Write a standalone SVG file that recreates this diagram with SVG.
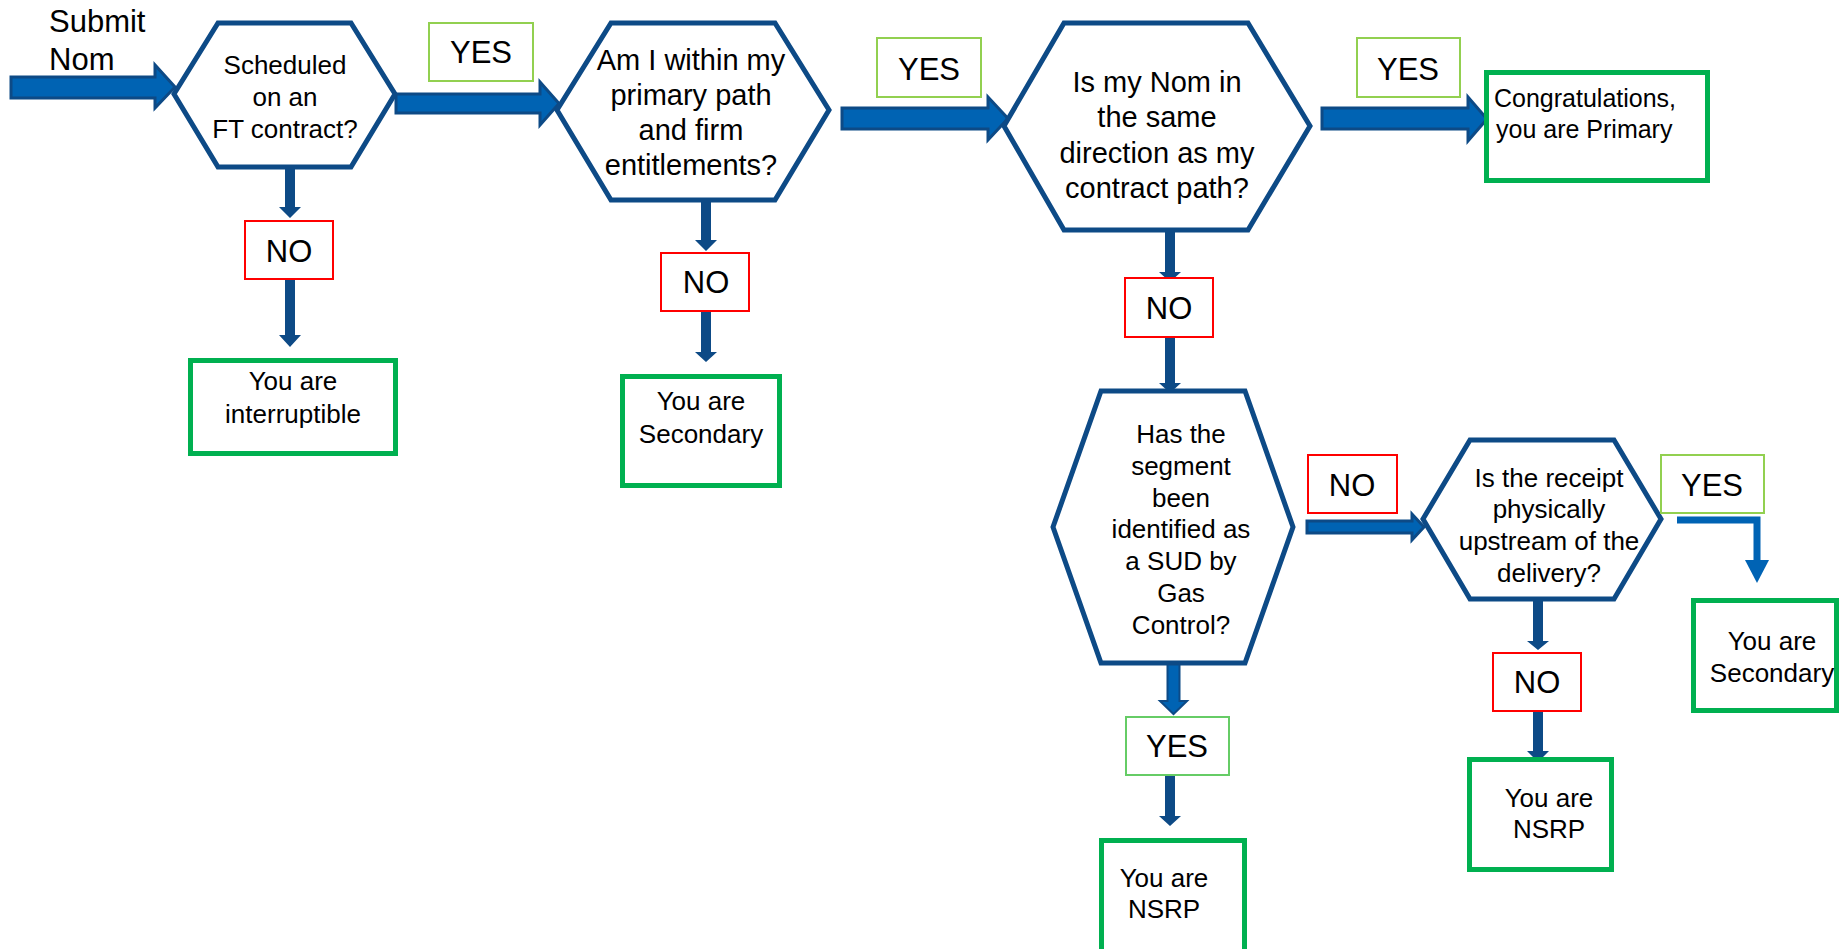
<svg xmlns="http://www.w3.org/2000/svg" width="1839" height="949" viewBox="0 0 1839 949">
<style>
text{font-family:"Liberation Sans",Arial,sans-serif;fill:#000}
.hex{fill:#fff;stroke:#0d4a86;stroke-width:5;stroke-linejoin:miter}
.big{fill:#0063b3;stroke:#0d4a86;stroke-width:3}
.dn{fill:#0d4a86;stroke:none}
.yes{fill:#fff;stroke:#92d050;stroke-width:2}
.yes2{fill:#fff;stroke:#66cc66;stroke-width:2}
.no{fill:#fff;stroke:#ff0000;stroke-width:2}
.res{fill:#fff;stroke:#00b050;stroke-width:5}
.lbl{font-size:31px;text-anchor:middle}
.q26{font-size:26px;text-anchor:middle}
.q29{font-size:29px;text-anchor:middle}
</style>
<rect width="1839" height="949" fill="#fff"/>

<g id="connectors">
  <polygon class="big" points="11,77 155,77 155,65 175,87 155,108 155,98 11,98"/>
  <polygon class="big" points="396,94 540,94 540,82 559,103.5 540,125 540,113 396,113"/>
  <polygon class="big" points="842,108 988,108 988,97 1008,118.5 988,140 988,129 842,129"/>
  <polygon class="big" points="1322,108 1468,108 1468,97 1487,119 1468,141 1468,129 1322,129"/>
  <polygon class="big" points="1307,521 1412,521 1412,514 1424,527 1412,540 1412,533 1307,533"/>
  <polygon class="dn" points="285,167 295,167 295,207 301,207 290,218 279,207 285,207"/>
  <polygon class="dn" points="285,279 295,279 295,335 301,335 290,347 279,335 285,335"/>
  <polygon class="dn" points="701,200 711,200 711,240 717,240 706,251 695,240 701,240"/>
  <polygon class="dn" points="701,311 711,311 711,352 717,352 706,362 695,352 701,352"/>
  <polygon class="dn" points="1165,230 1175,230 1175,272 1181,272 1170,282 1159,272 1165,272"/>
  <polygon class="dn" points="1165,337 1175,337 1175,383 1181,383 1170,393 1159,383 1165,383"/>
  <polygon class="big" points="1167.5,663 1179.5,663 1179.5,701 1187,701 1173.5,714 1160,701 1167.5,701" style="stroke-width:2"/>
  <polygon class="dn" points="1165,775 1175,775 1175,816 1181,816 1170,826 1159,816 1165,816"/>
  <polygon class="dn" points="1533,599 1543,599 1543,641 1549,641 1538,650 1527,641 1533,641"/>
  <polygon class="dn" points="1533,711 1543,711 1543,751 1549,751 1538,762 1527,751 1533,751"/>
  <path d="M1677 520 H1757 V561" fill="none" stroke="#0063b4" stroke-width="7"/>
  <polygon points="1745,560 1769,560 1757,583" fill="#0063b4"/>
</g>

<g id="start">
  <text x="49" y="32" font-size="31">Submit</text>
  <text x="49" y="70" font-size="31">Nom</text>
</g>

<g id="q1">
  <polygon class="hex" points="174,94 218,23 351,23 395,94 351,167 218,167"/>
  <text class="q26" x="285" y="74">Scheduled</text>
  <text class="q26" x="285" y="106">on an</text>
  <text class="q26" x="285" y="138">FT contract?</text>
</g>

<g id="yes1"><rect class="yes" x="429" y="23" width="104" height="58"/><text class="lbl" x="481" y="63">YES</text></g>

<g id="q2">
  <polygon class="hex" points="557,110 611,23 775,23 829,110 775,200 611,200"/>
  <text class="q29" x="691" y="70">Am I within my</text>
  <text class="q29" x="691" y="105">primary path</text>
  <text class="q29" x="691" y="140">and firm</text>
  <text class="q29" x="691" y="175">entitlements?</text>
</g>

<g id="yes2"><rect class="yes" x="877" y="38" width="104" height="59"/><text class="lbl" x="929" y="80">YES</text></g>

<g id="q3">
  <polygon class="hex" points="1004,126 1064,23 1248,23 1310,126 1248,230 1064,230"/>
  <text class="q29" x="1157" y="92">Is my Nom in</text>
  <text class="q29" x="1157" y="127">the same</text>
  <text class="q29" x="1157" y="163">direction as my</text>
  <text class="q29" x="1157" y="198">contract path?</text>
</g>

<g id="yes3"><rect class="yes" x="1357" y="38" width="103" height="59"/><text class="lbl" x="1408" y="80">YES</text></g>

<g id="primary">
  <rect class="res" x="1486.5" y="72.5" width="221" height="108"/>
  <text x="1494" y="107" font-size="25">Congratulations,</text>
  <text x="1496" y="138" font-size="25">you are Primary</text>
</g>

<g id="no1"><rect class="no" x="245" y="221" width="88" height="58"/><text class="lbl" x="289" y="262">NO</text></g>

<g id="interruptible">
  <rect class="res" x="190.5" y="360.5" width="205" height="93"/>
  <text class="q26" x="293" y="390">You are</text>
  <text class="q26" x="293" y="423">interruptible</text>
</g>

<g id="no2"><rect class="no" x="661" y="253" width="88" height="58"/><text class="lbl" x="706" y="293">NO</text></g>

<g id="secondary1">
  <rect class="res" x="622.5" y="376.5" width="157" height="109"/>
  <text class="q26" x="701" y="410">You are</text>
  <text class="q26" x="701" y="443">Secondary</text>
</g>

<g id="no3"><rect class="no" x="1125" y="278" width="88" height="59"/><text class="lbl" x="1169" y="319">NO</text></g>

<g id="q4">
  <polygon class="hex" points="1053,527 1101,391 1245,391 1293,527 1245,663 1101,663"/>
  <text class="q26" x="1181" y="443">Has the</text>
  <text class="q26" x="1181" y="475">segment</text>
  <text class="q26" x="1181" y="507">been</text>
  <text class="q26" x="1181" y="538">identified as</text>
  <text class="q26" x="1181" y="570">a SUD by</text>
  <text class="q26" x="1181" y="602">Gas</text>
  <text class="q26" x="1181" y="634">Control?</text>
</g>

<g id="no4"><rect class="no" x="1308" y="455" width="89" height="58"/><text class="lbl" x="1352" y="496">NO</text></g>

<g id="q5">
  <polygon class="hex" points="1423,519 1470,440 1614,440 1661,519 1614,599 1470,599"/>
  <text class="q26" x="1549" y="487">Is the receipt</text>
  <text class="q26" x="1549" y="518">physically</text>
  <text class="q26" x="1549" y="550">upstream of the</text>
  <text class="q26" x="1549" y="582">delivery?</text>
</g>

<g id="yes5"><rect class="yes" x="1661" y="455" width="103" height="58"/><text class="lbl" x="1712" y="496">YES</text></g>

<g id="secondary2">
  <rect class="res" x="1693.5" y="600.5" width="143" height="110"/>
  <text class="q26" x="1772" y="650">You are</text>
  <text class="q26" x="1772" y="682">Secondary</text>
</g>

<g id="no5"><rect class="no" x="1493" y="653" width="88" height="58"/><text class="lbl" x="1537" y="693">NO</text></g>

<g id="nsrp2">
  <rect class="res" x="1469.5" y="759.5" width="142" height="110"/>
  <text class="q26" x="1549" y="807">You are</text>
  <text class="q26" x="1549" y="838">NSRP</text>
</g>

<g id="yes4"><rect class="yes2" x="1126" y="717" width="103" height="58"/><text class="lbl" x="1177" y="757">YES</text></g>

<g id="nsrp1">
  <rect class="res" x="1101.5" y="840.5" width="143" height="120"/>
  <text class="q26" x="1164" y="887">You are</text>
  <text class="q26" x="1164" y="918">NSRP</text>
</g>
</svg>
